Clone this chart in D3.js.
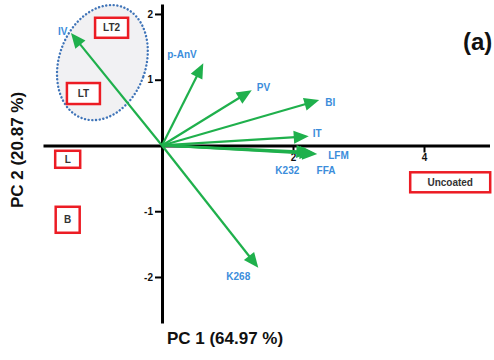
<!DOCTYPE html>
<html>
<head>
<meta charset="utf-8">
<script src="https://cdn.jsdelivr.net/npm/d3@7"></script>
<style>
  html, body { margin: 0; padding: 0; background: #fff; }
  svg { display: block; font-family: "Liberation Sans", Arial, sans-serif; }
</style>
</head>
<body>
<svg id="chart" width="494" height="360"></svg>
<script>
// PCA biplot: variable loadings (arrows) and sample scores (boxed labels)
const loadingNames = ["IV", "p-AnV", "PV", "BI", "IT", "K232", "FFA", "LFM", "K268"];
const loadingPC1   = [-1.39, 0.63, 1.37, 2.40, 2.24, 2.28, 2.33, 2.37, 1.47];
const loadingPC2   = [ 1.71, 1.25, 0.84, 0.69, 0.14, -0.10, -0.12, -0.13, -1.86];

const sampleNames = ["LT2", "LT", "L", "B", "Uncoated"];
const samplePC1   = [-0.77, -1.20, -1.44, -1.44, 4.40];
const samplePC2   = [ 1.79,  0.79, -0.21, -1.13, -0.56];

const xTicks = [2, 4];
const yTicks = [-2, -1, 1, 2];

// Cluster outline around the LT / LT2 samples (PC units)
const clusterCenter = [-0.91, 1.26];
const clusterRadii  = [0.66, 0.90];
const clusterTilt   = 20;

const xTitle = "PC 1 (64.97 %)";
const yTitle = "PC 2 (20.87 %)";
const panelTag = "(a)";

// label offsets (px) relative to each arrow tip
const labelOffset = {
  "IV": [-13, -1], "p-AnV": [-36, -8], "PV": [5, -2], "BI": [6, 3],
  "IT": [4, -2], "K232": [-36, 19], "FFA": [2, 18], "LFM": [11, 2], "K268": [-32, 10]
};
// box sizes (px) for sample labels
const boxSize = {
  "LT2": [33, 20], "LT": [33, 21], "L": [25, 17], "B": [24, 26], "Uncoated": [80, 20]
};

const svg = d3.select("#chart");
const x = d3.scaleLinear().domain([-1.817, 5.0]).range([43, 489.5]);
const y = d3.scaleLinear().domain([-2.7, 2.15]).range([323, 4.1]);

const green = "#1fb04c";
const blue = "#3b8ddb";

// cluster ellipse
svg.append("ellipse")
  .attr("cx", x(clusterCenter[0]))
  .attr("cy", y(clusterCenter[1]))
  .attr("rx", x(clusterRadii[0]) - x(0))
  .attr("ry", y(0) - y(clusterRadii[1]))
  .attr("transform", `rotate(${clusterTilt} ${x(clusterCenter[0])} ${y(clusterCenter[1])})`)
  .attr("fill", "#f1f1f3")
  .attr("stroke", "#3f74b8")
  .attr("stroke-width", 2.4)
  .attr("stroke-dasharray", "0.1 3.6")
  .attr("stroke-linecap", "round");

// axes through the origin (plain hyphen for negative ticks)
const fmt = d => String(d);
const xAxis = d3.axisBottom(x).tickValues(xTicks).tickFormat(fmt).tickSize(7).tickSizeOuter(0).tickPadding(1);
const yAxis = d3.axisLeft(y).tickValues(yTicks).tickFormat(fmt).tickSize(7).tickSizeOuter(0).tickPadding(2);

const gx = svg.append("g").attr("transform", `translate(0,${y(0)})`).call(xAxis);
const gy = svg.append("g").attr("transform", `translate(${x(0)},0)`).call(yAxis);
[gx, gy].forEach(g => {
  g.select(".domain").attr("stroke", "#000").attr("stroke-width", 3);
  g.selectAll(".tick line").attr("stroke", "#000").attr("stroke-width", 2);
  g.selectAll(".tick text")
    .attr("fill", "#111")
    .attr("font-weight", "bold")
    .attr("font-size", 10)
    .attr("font-family", "\"Liberation Sans\", Arial, sans-serif");
});

// loading arrows
const loadings = loadingNames.map((n, i) => ({ name: n, pc1: loadingPC1[i], pc2: loadingPC2[i] }));
const headLen = 15, headHalf = 6.5;
const ag = svg.append("g");
loadings.forEach(d => {
  const x0 = x(0), y0 = y(0), x1 = x(d.pc1), y1 = y(d.pc2);
  const L = Math.hypot(x1 - x0, y1 - y0);
  const ux = (x1 - x0) / L, uy = (y1 - y0) / L;
  const bx = x1 - ux * headLen, by = y1 - uy * headLen;
  ag.append("line")
    .attr("x1", x0).attr("y1", y0).attr("x2", bx + ux * 2).attr("y2", by + uy * 2)
    .attr("stroke", green).attr("stroke-width", 2.2);
  ag.append("polygon")
    .attr("points", [[x1, y1], [bx - uy * headHalf, by + ux * headHalf], [bx + uy * headHalf, by - ux * headHalf]].map(p => p.join(",")).join(" "))
    .attr("fill", green);
});

// loading labels
svg.append("g").selectAll("text").data(loadings).join("text")
  .attr("x", d => x(d.pc1) + labelOffset[d.name][0])
  .attr("y", d => y(d.pc2) + labelOffset[d.name][1])
  .attr("dominant-baseline", "middle")
  .attr("fill", blue)
  .attr("font-weight", "bold")
  .attr("font-size", 10)
  .text(d => d.name);

// sample boxes
const samples = sampleNames.map((n, i) => ({ name: n, pc1: samplePC1[i], pc2: samplePC2[i] }));
const sg = svg.append("g").selectAll("g").data(samples).join("g")
  .attr("transform", d => `translate(${x(d.pc1)},${y(d.pc2)})`);
sg.append("rect")
  .attr("x", d => -boxSize[d.name][0] / 2)
  .attr("y", d => -boxSize[d.name][1] / 2)
  .attr("width", d => boxSize[d.name][0])
  .attr("height", d => boxSize[d.name][1])
  .attr("fill", "#fff")
  .attr("stroke", "#ec1c24")
  .attr("stroke-width", 2.5);
sg.append("text")
  .attr("text-anchor", "middle")
  .attr("dominant-baseline", "central")
  .attr("fill", "#333")
  .attr("font-weight", "bold")
  .attr("font-size", 10)
  .text(d => d.name);

// axis titles
svg.append("text")
  .attr("x", 225).attr("y", 338)
  .attr("text-anchor", "middle").attr("dominant-baseline", "central")
  .attr("font-weight", "bold").attr("font-size", 17).attr("fill", "#111")
  .text(xTitle);
svg.append("text")
  .attr("transform", "translate(17,150) rotate(-90)")
  .attr("text-anchor", "middle").attr("dominant-baseline", "central")
  .attr("font-weight", "bold").attr("font-size", 17).attr("fill", "#111")
  .text(yTitle);

// panel tag
svg.append("text")
  .attr("x", 463).attr("y", 41)
  .attr("dominant-baseline", "central")
  .attr("font-weight", "bold").attr("font-size", 24).attr("fill", "#111")
  .text(panelTag);
</script>
</body>
</html>
